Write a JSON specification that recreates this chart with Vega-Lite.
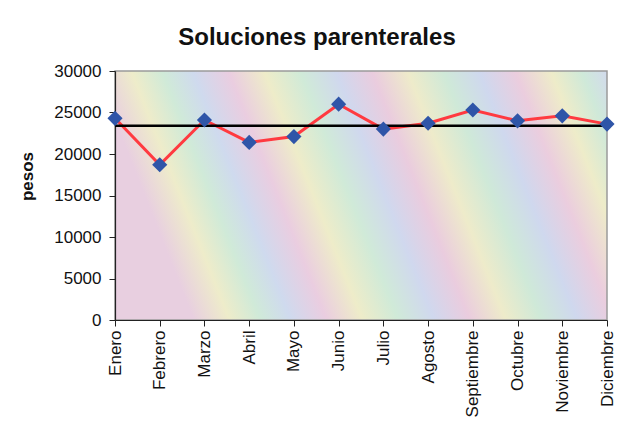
{
  "$schema": "https://vega.github.io/schema/vega-lite/v6.json",
  "autosize": {"type": "none"},
  "width": 492,
  "height": 249,
  "padding": {"left": 115, "top": 71, "right": 21, "bottom": 105},
  "background": "white",
  "title": {
    "text": "Soluciones parenterales",
    "font": "Liberation Sans",
    "fontSize": 24,
    "fontWeight": "bold",
    "color": "#111111",
    "anchor": "middle",
    "dx": -44,
    "offset": 12
  },
  "config": {
    "view": {
      "stroke": "#9a9a9a",
      "strokeWidth": 1.5,
      "fill": {
        "gradient": "linear",
        "x1": 0, "y1": 0.2, "x2": 1, "y2": 0,
        "stops": [
          {"offset": 0.0, "color": "#e8cfe0"},
          {"offset": 0.07, "color": "#eeecca"},
          {"offset": 0.13, "color": "#d0ead8"},
          {"offset": 0.19, "color": "#cfdaee"},
          {"offset": 0.26, "color": "#eacde0"},
          {"offset": 0.33, "color": "#eeecc9"},
          {"offset": 0.40, "color": "#d0ead8"},
          {"offset": 0.47, "color": "#d0d8ee"},
          {"offset": 0.54, "color": "#eaccde"},
          {"offset": 0.61, "color": "#eeebca"},
          {"offset": 0.68, "color": "#cfe9d8"},
          {"offset": 0.75, "color": "#cfd8ee"},
          {"offset": 0.82, "color": "#ebcdde"},
          {"offset": 0.89, "color": "#eeecc9"},
          {"offset": 0.95, "color": "#cfe9d9"},
          {"offset": 1.0, "color": "#d2daed"}
        ]
      }
    },
    "axis": {
      "labelFont": "Liberation Sans",
      "labelFontSize": 17,
      "labelColor": "#111111",
      "titleFont": "Liberation Sans",
      "titleFontSize": 17,
      "titleFontWeight": "bold",
      "titleColor": "#111111",
      "domainColor": "#222222",
      "tickColor": "#222222",
      "domainWidth": 1.2,
      "grid": false
    }
  },
  "data": {
    "values": [
      {"mes": "Enero", "pesos": 24300},
      {"mes": "Febrero", "pesos": 18700},
      {"mes": "Marzo", "pesos": 24100},
      {"mes": "Abril", "pesos": 21400},
      {"mes": "Mayo", "pesos": 22100},
      {"mes": "Junio", "pesos": 26000},
      {"mes": "Julio", "pesos": 23000},
      {"mes": "Agosto", "pesos": 23700},
      {"mes": "Septiembre", "pesos": 25300},
      {"mes": "Octubre", "pesos": 24000},
      {"mes": "Noviembre", "pesos": 24600},
      {"mes": "Diciembre", "pesos": 23600}
    ]
  },
  "layer": [
    {
      "mark": {"type": "line", "color": "#ff3a40", "strokeWidth": 3},
      "encoding": {
        "x": {
          "field": "mes", "type": "ordinal", "sort": null,
          "scale": {"type": "point", "padding": 0},
          "axis": {"title": null, "labelAngle": -90, "labelPadding": 4, "tickSize": 6}
        },
        "y": {
          "field": "pesos", "type": "quantitative",
          "scale": {"domain": [0, 30000], "nice": false},
          "axis": {"title": "pesos", "values": [0, 5000, 10000, 15000, 20000, 25000, 30000], "tickSize": 6, "labelPadding": 8, "titlePadding": 17, "titleY": 105, "format": "d"}
        }
      }
    },
    {
      "mark": {"type": "rule", "color": "#000000", "strokeWidth": 2.5},
      "encoding": {
        "y": {"aggregate": "mean", "field": "pesos", "type": "quantitative"}
      }
    },
    {
      "mark": {"type": "point", "shape": "diamond", "filled": true, "color": "#2f55a8", "size": 230, "opacity": 1},
      "encoding": {
        "x": {"field": "mes", "type": "ordinal", "sort": null},
        "y": {"field": "pesos", "type": "quantitative"}
      }
    }
  ]
}
